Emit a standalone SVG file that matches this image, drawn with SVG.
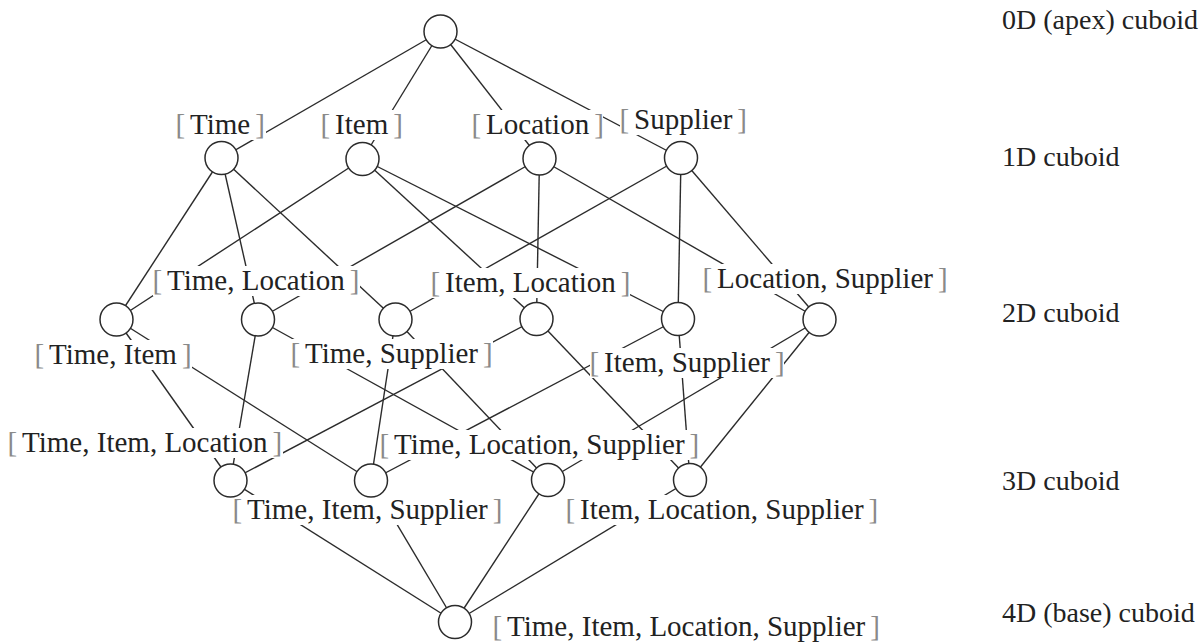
<svg xmlns="http://www.w3.org/2000/svg" width="1203" height="642" viewBox="0 0 1203 642">
<style>
.e{stroke:#2b2b2b;stroke-width:1.4;fill:none}
.n{fill:#fff;stroke:#2b2b2b;stroke-width:1.5}
.m{fill:#fff}
.t{font-family:"Liberation Serif","Times New Roman",serif;font-size:29px;fill:#222}
.b{fill:#8a8a8a}
.r{font-family:"Liberation Serif","Times New Roman",serif;font-size:28px;fill:#222}
</style>
<rect width="1203" height="642" fill="#fff"/>
<g id="connectors">
<line class="e" x1="440.5" y1="31.5" x2="221.5" y2="158"/>
<line class="e" x1="440.5" y1="31.5" x2="362.5" y2="159"/>
<line class="e" x1="440.5" y1="31.5" x2="539.5" y2="158.5"/>
<line class="e" x1="440.5" y1="31.5" x2="681" y2="158"/>
<line class="e" x1="221.5" y1="158" x2="116.5" y2="319.5"/>
<line class="e" x1="221.5" y1="158" x2="258" y2="319.5"/>
<line class="e" x1="221.5" y1="158" x2="395.5" y2="319.5"/>
<line class="e" x1="362.5" y1="159" x2="116.5" y2="319.5"/>
<line class="e" x1="362.5" y1="159" x2="536.5" y2="319"/>
<line class="e" x1="362.5" y1="159" x2="678" y2="319"/>
<line class="e" x1="539.5" y1="158.5" x2="258" y2="319.5"/>
<line class="e" x1="539.5" y1="158.5" x2="536.5" y2="319"/>
<line class="e" x1="539.5" y1="158.5" x2="819.5" y2="319.5"/>
<line class="e" x1="681" y1="158" x2="395.5" y2="319.5"/>
<line class="e" x1="681" y1="158" x2="678" y2="319"/>
<line class="e" x1="681" y1="158" x2="819.5" y2="319.5"/>
<line class="e" x1="116.5" y1="319.5" x2="230.5" y2="480.5"/>
<line class="e" x1="116.5" y1="319.5" x2="371" y2="480.5"/>
<line class="e" x1="258" y1="319.5" x2="230.5" y2="480.5"/>
<line class="e" x1="258" y1="319.5" x2="548" y2="480"/>
<line class="e" x1="395.5" y1="319.5" x2="371" y2="480.5"/>
<line class="e" x1="395.5" y1="319.5" x2="548" y2="480"/>
<line class="e" x1="536.5" y1="319" x2="230.5" y2="480.5"/>
<line class="e" x1="536.5" y1="319" x2="690" y2="480"/>
<line class="e" x1="678" y1="319" x2="371" y2="480.5"/>
<line class="e" x1="678" y1="319" x2="690" y2="480"/>
<line class="e" x1="819.5" y1="319.5" x2="548" y2="480"/>
<line class="e" x1="819.5" y1="319.5" x2="690" y2="480"/>
<line class="e" x1="230.5" y1="480.5" x2="455" y2="622"/>
<line class="e" x1="371" y1="480.5" x2="455" y2="622"/>
<line class="e" x1="548" y1="480" x2="455" y2="622"/>
<line class="e" x1="690" y1="480" x2="455" y2="622"/>
</g>
<g id="label-masks">
<rect class="m" x="176" y="110" width="90" height="30"/>
<rect class="m" x="321" y="110" width="82" height="30"/>
<rect class="m" x="472" y="110" width="131" height="30"/>
<rect class="m" x="620" y="105" width="127" height="30"/>
<rect class="m" x="153" y="266" width="207" height="30"/>
<rect class="m" x="431" y="268" width="199" height="30"/>
<rect class="m" x="703" y="264" width="244" height="30"/>
<rect class="m" x="35" y="340" width="157" height="30"/>
<rect class="m" x="291" y="339" width="202" height="30"/>
<rect class="m" x="590" y="348" width="194" height="30"/>
<rect class="m" x="8" y="428" width="275" height="30"/>
<rect class="m" x="380" y="430" width="320" height="30"/>
<rect class="m" x="233" y="495" width="270" height="30"/>
<rect class="m" x="566" y="495" width="312" height="30"/>
<rect class="m" x="493" y="612" width="388" height="30"/>
</g>
<g id="apex"><circle class="n" cx="440.5" cy="31.5" r="16.5"/></g>
<g id="time"><circle class="n" cx="221.5" cy="158" r="16.5"/><text class="t" x="175.4" y="134"><tspan class="b">[</tspan><tspan dx="5">Time</tspan><tspan class="b" dx="5">]</tspan></text></g>
<g id="item"><circle class="n" cx="362.5" cy="159" r="16.5"/><text class="t" x="320.4" y="134"><tspan class="b">[</tspan><tspan dx="5">Item</tspan><tspan class="b" dx="5">]</tspan></text></g>
<g id="location"><circle class="n" cx="539.5" cy="158.5" r="16.5"/><text class="t" x="471.4" y="134"><tspan class="b">[</tspan><tspan dx="5">Location</tspan><tspan class="b" dx="5">]</tspan></text></g>
<g id="supplier"><circle class="n" cx="681" cy="158" r="16.5"/><text class="t" x="619.4" y="129"><tspan class="b">[</tspan><tspan dx="5">Supplier</tspan><tspan class="b" dx="5">]</tspan></text></g>
<g id="time-item"><circle class="n" cx="116.5" cy="319.5" r="16.5"/><text class="t" x="34.4" y="364"><tspan class="b">[</tspan><tspan dx="5">Time, Item</tspan><tspan class="b" dx="5">]</tspan></text></g>
<g id="time-location"><circle class="n" cx="258" cy="319.5" r="16.5"/><text class="t" x="152.4" y="290"><tspan class="b">[</tspan><tspan dx="5">Time, Location</tspan><tspan class="b" dx="5">]</tspan></text></g>
<g id="time-supplier"><circle class="n" cx="395.5" cy="319.5" r="16.5"/><text class="t" x="290.4" y="363"><tspan class="b">[</tspan><tspan dx="5">Time, Supplier</tspan><tspan class="b" dx="5">]</tspan></text></g>
<g id="item-location"><circle class="n" cx="536.5" cy="319" r="16.5"/><text class="t" x="430.4" y="292"><tspan class="b">[</tspan><tspan dx="5">Item, Location</tspan><tspan class="b" dx="5">]</tspan></text></g>
<g id="item-supplier"><circle class="n" cx="678" cy="319" r="16.5"/><text class="t" x="589.4" y="372"><tspan class="b">[</tspan><tspan dx="5">Item, Supplier</tspan><tspan class="b" dx="5">]</tspan></text></g>
<g id="location-supplier"><circle class="n" cx="819.5" cy="319.5" r="16.5"/><text class="t" x="702.4" y="288"><tspan class="b">[</tspan><tspan dx="5">Location, Supplier</tspan><tspan class="b" dx="5">]</tspan></text></g>
<g id="time-item-location"><circle class="n" cx="230.5" cy="480.5" r="16.5"/><text class="t" x="7.4" y="452"><tspan class="b">[</tspan><tspan dx="5">Time, Item, Location</tspan><tspan class="b" dx="5">]</tspan></text></g>
<g id="time-item-supplier"><circle class="n" cx="371" cy="480.5" r="16.5"/><text class="t" x="232.4" y="519"><tspan class="b">[</tspan><tspan dx="5">Time, Item, Supplier</tspan><tspan class="b" dx="5">]</tspan></text></g>
<g id="time-location-supplier"><circle class="n" cx="548" cy="480" r="16.5"/><text class="t" x="379.4" y="454"><tspan class="b">[</tspan><tspan dx="5">Time, Location, Supplier</tspan><tspan class="b" dx="5">]</tspan></text></g>
<g id="item-location-supplier"><circle class="n" cx="690" cy="480" r="16.5"/><text class="t" x="565.4" y="519"><tspan class="b">[</tspan><tspan dx="5">Item, Location, Supplier</tspan><tspan class="b" dx="5">]</tspan></text></g>
<g id="base"><circle class="n" cx="455" cy="622" r="16.5"/><text class="t" x="492.4" y="636"><tspan class="b">[</tspan><tspan dx="5">Time, Item, Location, Supplier</tspan><tspan class="b" dx="5">]</tspan></text></g>
<g id="level-labels">
<text class="r" x="1002" y="29">0D (apex) cuboid</text>
<text class="r" x="1002" y="166">1D cuboid</text>
<text class="r" x="1002" y="322">2D cuboid</text>
<text class="r" x="1002" y="490">3D cuboid</text>
<text class="r" x="1002" y="622">4D (base) cuboid</text>
</g>
</svg>
